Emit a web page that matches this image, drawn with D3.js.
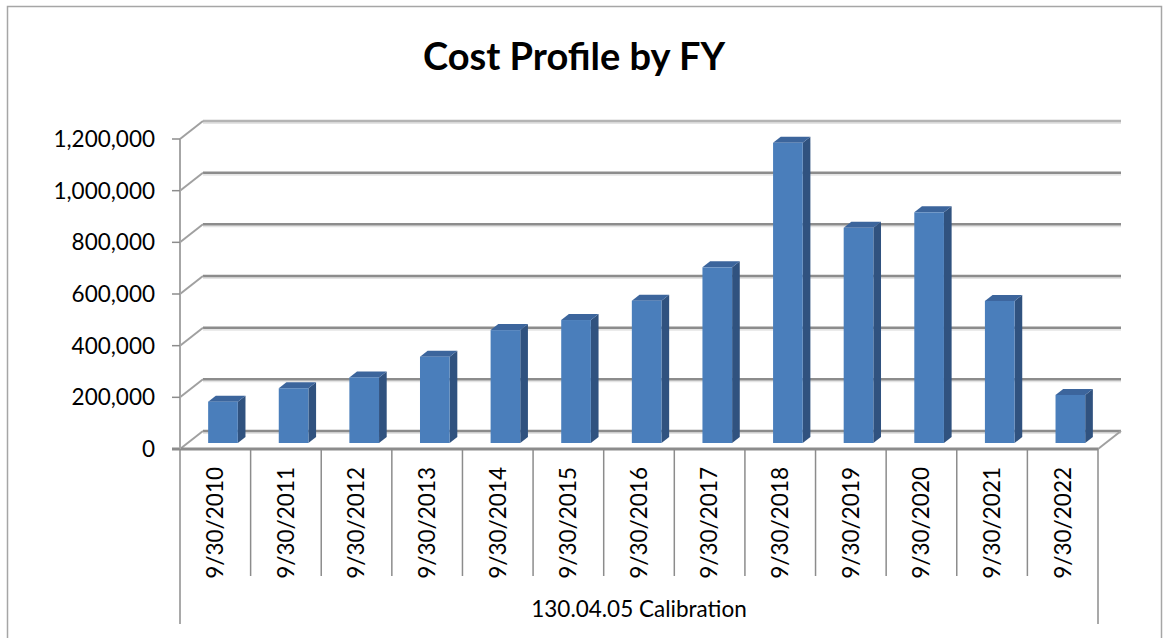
<!DOCTYPE html>
<html>
<head>
<meta charset="utf-8">
<script src="https://cdn.jsdelivr.net/npm/d3@7"></script>
<style>
  body { margin: 0; background: #fff; }
  text { font-family: Lato, "Open Sans", sans-serif; fill: #000; }
</style>
</head>
<body>
<div id="chart"></div>
<script>
// data
const dates = ['9/30/2010', '9/30/2011', '9/30/2012', '9/30/2013', '9/30/2014', '9/30/2015', '9/30/2016',
  '9/30/2017', '9/30/2018', '9/30/2019', '9/30/2020', '9/30/2021', '9/30/2022'];
const costs = [160000, 212000, 254000, 334000, 437000, 476000, 551000, 680000, 1162000, 833000, 893000, 550000, 186000];
const yTicks = [0, 200000, 400000, 600000, 800000, 1000000, 1200000];
const groupLabel = '130.04.05 Calibration';
const title = 'Cost Profile by FY';

const W = 1169, H = 638;
const plotL = 180, plotR = 1098, plotB = 449, plotT = 139;
// depth of the 3d box (back wall offset)
const depthX = 23, depthY = -18;
const fmt = d3.format(',');
const labelSize = '22.5px';

const svg = d3.select('#chart').append('svg')
  .attr('width', W).attr('height', H);

// outer frame
svg.append('rect')
  .attr('x', 7.5).attr('y', 6.5).attr('width', 1154).attr('height', 645)
  .attr('fill', '#fff').attr('stroke', '#a6a6a6').attr('stroke-width', 1.5);

svg.append('text')
  .attr('x', 574).attr('y', 70)
  .attr('text-anchor', 'middle')
  .style('font-size', '38px').style('font-weight', 'bold')
  .text(title);

const y = d3.scaleLinear().domain([0, 1200000]).range([plotB, plotT]);
const cell = d3.scaleBand().domain(dates).range([plotL, plotR]).padding(0);
const x = d3.scaleBand().domain(dates).range([plotL, plotR])
  .paddingInner(0.58).paddingOuter(0.29);

const off = f => [depthX * f, depthY * f];

// walls: gridlines on back wall + diagonals on left wall
const grid = svg.append('g');
yTicks.forEach((t, i) => {
  const yf = y(t), yb = yf + depthY;
  const col = i === yTicks.length - 1 ? '#b4b4b4' : '#8c8c8c';
  grid.append('line')
    .attr('x1', plotL + depthX).attr('x2', plotR + depthX)
    .attr('y1', yb + 2).attr('y2', yb + 2)
    .attr('stroke', '#e4e4e4').attr('stroke-width', 2);
  grid.append('line')
    .attr('x1', plotL + depthX).attr('x2', plotR + depthX)
    .attr('y1', yb).attr('y2', yb)
    .attr('stroke', col).attr('stroke-width', 2.5);
  grid.append('line')
    .attr('x1', plotL).attr('y1', yf)
    .attr('x2', plotL + depthX).attr('y2', yb)
    .attr('stroke', '#a0a0a0').attr('stroke-width', 2);
});

// floor right edge
grid.append('line')
  .attr('x1', plotR).attr('y1', plotB)
  .attr('x2', plotR + depthX).attr('y2', plotB + depthY)
  .attr('stroke', '#a0a0a0').attr('stroke-width', 2);

// bars as 3d boxes, sitting between 1/3 and 2/3 of depth
const f0 = off(1 / 3), f1 = off(2 / 3);
const bars = svg.append('g').selectAll('g')
  .data(costs.map((v, i) => ({ date: dates[i], v })))
  .join('g');

bars.append('path')
  .attr('fill', '#30527f')
  .attr('d', d => {
    const x1 = x(d.date) + x.bandwidth();
    const yt = y(d.v), yb = plotB;
    return `M${x1 + f0[0]},${yb + f0[1]} L${x1 + f1[0]},${yb + f1[1]} L${x1 + f1[0]},${yt + f1[1]} L${x1 + f0[0]},${yt + f0[1]} Z`;
  });
bars.append('path')
  .attr('fill', '#3c659c')
  .attr('d', d => {
    const x0 = x(d.date), x1 = x0 + x.bandwidth();
    const yt = y(d.v);
    return `M${x0 + f0[0]},${yt + f0[1]} L${x1 + f0[0]},${yt + f0[1]} L${x1 + f1[0]},${yt + f1[1]} L${x0 + f1[0]},${yt + f1[1]} Z`;
  });
bars.append('rect')
  .attr('fill', '#4a7ebb')
  .attr('x', d => x(d.date) + f0[0])
  .attr('y', d => y(d.v) + f0[1])
  .attr('width', x.bandwidth())
  .attr('height', d => plotB - y(d.v));

// front edges of the box
const axes = svg.append('g').attr('stroke', '#8c8c8c');
axes.append('line')
  .attr('x1', plotL - 8).attr('x2', plotR)
  .attr('y1', plotB).attr('y2', plotB)
  .attr('stroke-width', 3);
axes.append('line')
  .attr('x1', plotL).attr('x2', plotL)
  .attr('y1', plotB).attr('y2', plotT)
  .attr('stroke', '#a6a6a6').attr('stroke-width', 2);

// value axis ticks and labels
const yAxis = svg.append('g');
yAxis.selectAll('line').data(yTicks).join('line')
  .attr('x1', plotL - 8).attr('x2', plotL)
  .attr('y1', d => y(d)).attr('y2', d => y(d))
  .attr('stroke', '#8c8c8c').attr('stroke-width', 1.5);
yAxis.selectAll('text').data(yTicks).join('text')
  .attr('x', 155).attr('y', d => y(d))
  .attr('dy', '0.35em')
  .attr('text-anchor', 'end')
  .style('font-size', labelSize)
  .text(d => fmt(d));

// category table below the floor
const cat = svg.append('g');
const bounds = d3.range(dates.length + 1).map(i => plotL + i * cell.step());
cat.selectAll('line').data(bounds).join('line')
  .attr('x1', d => d).attr('x2', d => d)
  .attr('y1', plotB)
  .attr('y2', (d, i) => (i === 0 || i === dates.length) ? 624 : 576)
  .attr('stroke', '#8c8c8c').attr('stroke-width', 1.5);
cat.selectAll('text').data(dates).join('text')
  .attr('transform', d => `translate(${cell(d) + cell.bandwidth() / 2},467) rotate(-90)`)
  .attr('text-anchor', 'end')
  .attr('dy', '0.35em')
  .style('font-size', labelSize)
  .text(d => d);

svg.append('text')
  .attr('x', (plotL + plotR) / 2).attr('y', 617)
  .attr('text-anchor', 'middle')
  .style('font-size', labelSize)
  .text(groupLabel);
</script>
</body>
</html>
